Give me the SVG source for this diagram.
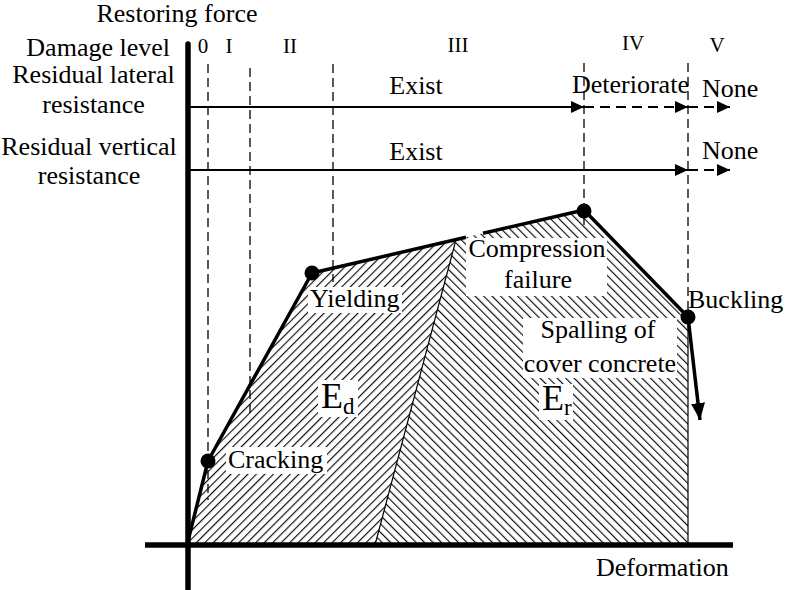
<svg xmlns="http://www.w3.org/2000/svg" width="785" height="590" viewBox="0 0 785 590">
<style>
.lbl{font-family:"Liberation Serif","DejaVu Serif",serif;font-size:26px;fill:#000}
.lv{font-family:"Liberation Serif","DejaVu Serif",serif;font-size:21px;fill:#000}
.big{font-family:"Liberation Serif","DejaVu Serif",serif;font-size:36px;fill:#000}
.sub{font-family:"Liberation Serif","DejaVu Serif",serif;font-size:23px;fill:#000}
.m{text-anchor:middle}
.dash{stroke:#000;stroke-width:1.3;stroke-dasharray:9 5;fill:none}
.curve{stroke:#000;stroke-width:3.5;fill:none;stroke-linejoin:round}
.arr{stroke:#000;stroke-width:2;fill:none}
.arrd{stroke:#000;stroke-width:2;fill:none;stroke-dasharray:10 6}
.wb{fill:#fff}
</style>
<defs>
<pattern id="hd" patternUnits="userSpaceOnUse" width="6" height="10" patternTransform="rotate(45)">
<line x1="0.6" y1="0" x2="0.6" y2="10" stroke="#000" stroke-width="1.1"/>
</pattern>
<pattern id="hr" patternUnits="userSpaceOnUse" width="6" height="10" patternTransform="rotate(-45)">
<line x1="0.6" y1="0" x2="0.6" y2="10" stroke="#000" stroke-width="1.1"/>
</pattern>
<marker id="ah" markerUnits="userSpaceOnUse" markerWidth="14" markerHeight="12" refX="13" refY="6" orient="auto">
<path d="M0,0 L13,6 L0,12 Z" fill="#000"/>
</marker>
<marker id="ahb" markerUnits="userSpaceOnUse" markerWidth="18" markerHeight="14" refX="17" refY="7" orient="auto">
<path d="M0,0 L17,7 L0,14 Z" fill="#000"/>
</marker>
</defs>

<g id="regions">
<path d="M187,545 L208,461 L312,273 L456,239.6 L375,545 Z" fill="url(#hd)"/>
<path d="M456,239.6 L584,210 L688,317 L688,545 L375,545 Z" fill="url(#hr)"/>
<line x1="456" y1="239.6" x2="375" y2="545" stroke="#000" stroke-width="1.2"/>
<line x1="688" y1="317" x2="688" y2="545" stroke="#000" stroke-width="1.2"/>
</g>

<g id="level-lines">
<line class="dash" x1="208" y1="64" x2="208" y2="500"/>
<line class="dash" x1="250" y1="68" x2="250" y2="416"/>
<line class="dash" x1="333" y1="64" x2="333" y2="282"/>
<line class="dash" x1="584" y1="63" x2="584" y2="225"/>
<line class="dash" x1="688" y1="63" x2="688" y2="317"/>
</g>

<g id="label-backgrounds">
<rect class="wb" x="226" y="447" width="101" height="27"/>
<rect class="wb" x="308" y="287" width="94" height="26"/>
<rect class="wb" x="318" y="380" width="40" height="37"/>
<rect class="wb" x="539" y="384" width="34" height="36"/>
<rect class="wb" x="466" y="238" width="141" height="58"/>
<rect class="wb" x="523" y="318" width="154" height="60"/>
</g>

<g id="connectors">
<path class="curve" d="M187,545 L208,461 L312,273 L466,237.3"/>
<path class="curve" d="M483,233.3 L584,210 L688,317"/>
<line x1="688" y1="317" x2="700" y2="420" stroke="#000" stroke-width="3.5" marker-end="url(#ahb)"/>
<line class="arr" x1="190" y1="107" x2="584" y2="107" marker-end="url(#ah)"/>
<line class="arrd" x1="584" y1="107" x2="688" y2="107" marker-end="url(#ah)"/>
<line class="arrd" x1="688" y1="107" x2="730" y2="107" marker-end="url(#ah)"/>
<line class="arr" x1="190" y1="170" x2="688" y2="170" marker-end="url(#ah)"/>
<line class="arrd" x1="688" y1="170" x2="730" y2="170" marker-end="url(#ah)"/>
</g>

<g id="axes">
<line x1="188" y1="44" x2="188" y2="589" stroke="#000" stroke-width="5.5" stroke-linecap="round"/>
<line x1="145" y1="545" x2="733" y2="545" stroke="#000" stroke-width="5.5"/>
</g>

<g id="point-cracking"><circle cx="208" cy="461" r="7.5"/><text class="lbl" x="228" y="468">Cracking</text></g>
<g id="point-yielding"><circle cx="312" cy="273" r="7.5"/><text class="lbl" x="310" y="307">Yielding</text></g>
<g id="point-compression"><text class="lbl m" x="537" y="257">Compression</text><text class="lbl m" x="538" y="288">failure</text></g>
<g id="point-peak"><circle cx="584" cy="211" r="7.5"/></g>
<g id="point-spalling"><text class="lbl m" x="598" y="338">Spalling of</text><text class="lbl m" x="600" y="372">cover concrete</text></g>
<g id="point-buckling"><circle cx="688" cy="317" r="7.5"/><text class="lbl" x="688" y="308">Buckling</text></g>
<g id="energy-d"><text class="big" x="321" y="408">E</text><text class="sub" x="343" y="414">d</text></g>
<g id="energy-r"><text class="big" x="542" y="410">E</text><text class="sub" x="564" y="415">r</text></g>

<g id="axis-labels">
<text class="lbl m" x="177" y="22">Restoring force</text>
<text class="lbl" x="596" y="576">Deformation</text>
<text class="lbl" x="170" y="56" text-anchor="end">Damage level</text>
<text class="lbl m" x="93.5" y="83">Residual lateral</text>
<text class="lbl m" x="93.5" y="113">resistance</text>
<text class="lbl m" x="89" y="155">Residual vertical</text>
<text class="lbl m" x="89" y="184">resistance</text>
</g>

<g id="damage-levels">
<text class="lv m" x="203" y="53">0</text>
<text class="lv m" x="229" y="53">I</text>
<text class="lv m" x="290" y="53">II</text>
<text class="lv m" x="458" y="52">III</text>
<text class="lv m" x="633" y="50">IV</text>
<text class="lv m" x="717" y="52">V</text>
</g>

<g id="state-labels">
<text class="lbl m" x="416" y="94">Exist</text>
<text class="lbl" x="572" y="93">Deteriorate</text>
<text class="lbl" x="702" y="97">None</text>
<text class="lbl m" x="416" y="160">Exist</text>
<text class="lbl" x="702" y="159">None</text>
</g>
</svg>
